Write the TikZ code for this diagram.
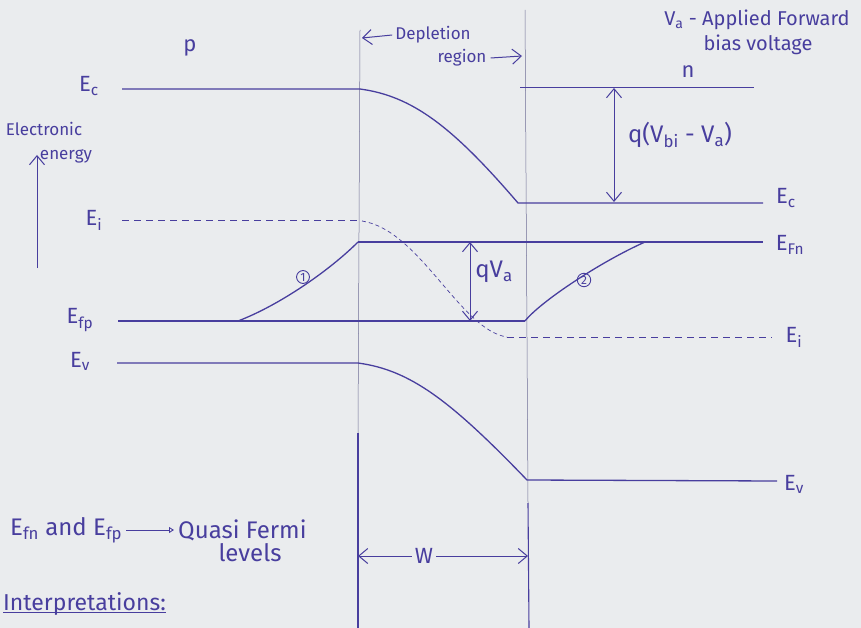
\documentclass[tikz,border=0pt]{standalone}
\usepackage{fontspec}
\setmainfont{Fira Sans}
\usetikzlibrary{arrows.meta}
\definecolor{ink}{RGB}{72,62,158}
\definecolor{paper}{RGB}{234,236,238}
\definecolor{guide}{RGB}{110,110,150}
\begin{document}
\begin{tikzpicture}[x=1pt,y=-1pt,
  band/.style={ink, line width=1.3pt},
  thinline/.style={guide, line width=0.5pt},
  boldline/.style={ink, line width=1.1pt},
  dashband/.style={ink, line width=1pt, dash pattern=on 7pt off 5pt},
  dimarrow/.style={ink, line width=1pt, {Straight Barb[length=9pt,width=15pt]}-{Straight Barb[length=9pt,width=15pt]}},
  onearrow/.style={ink, line width=1pt, -{Straight Barb[length=9pt,width=15pt]}},
  lbl/.style={text=ink, inner sep=0pt, font=\fontsize{17}{19}\selectfont},
  elbl/.style={text=ink, inner sep=0pt, font=\fontsize{22}{24}\selectfont},
  toplbl/.style={text=ink, inner sep=0pt, font=\fontsize{20}{22}\selectfont},
  biglbl/.style={text=ink, inner sep=0pt, font=\fontsize{24}{26}\selectfont},
  numcirc/.style={circle, draw=ink, text=ink, line width=0.9pt, inner sep=1.2pt, font=\fontsize{12}{13}\selectfont}
]
\fill[paper] (0,0) rectangle (861,628);
\useasboundingbox (0,0) rectangle (861,628);

% depletion region boundaries
\coordinate (bLtop) at (360,30);
\coordinate (bLmid) at (358,433);
\coordinate (bLbot) at (358,628);
\coordinate (bRtop) at (525,10);
\coordinate (bRmid) at (528,503);
\coordinate (bRbot) at (529,628);
\draw[thinline] (bLtop) -- (bLmid);
\draw[thinline] (bRtop) -- (bRmid);
\draw[boldline] (bLmid) -- (bLbot);
\draw[boldline] (bRmid) -- (bRbot);

% Ec
\coordinate (ecL) at (122,89);
\coordinate (ecA) at (360,89);
\coordinate (ecB) at (518,203);
\coordinate (ecR) at (763,203);
\draw[band] (ecL) -- (ecA) .. controls (412,96) and (452,126) .. (ecB) -- (ecR);

% n-side reference level
\coordinate (nL) at (520,88);
\coordinate (nR) at (754,88);
\draw[band, line width=1pt] (nL) -- (nR);

% Ei
\coordinate (eiL) at (122,221);
\coordinate (eiA) at (362,221);
\coordinate (eiB) at (507,337);
\coordinate (eiR) at (772,337);
\draw[dashband] (eiL) -- (eiA);
\draw[ink, line width=0.7pt, dash pattern=on 4pt off 3pt] (eiA) .. controls (420,230) and (460,330) .. (eiB);
\draw[dashband] (eiB) -- (eiR);

% Efn
\coordinate (efnA) at (358,242);
\coordinate (efnR) at (763,242);
\draw[band] (efnA) -- (efnR);

% Efp
\coordinate (efpL) at (118,321);
\coordinate (efpC) at (238,321);
\coordinate (efpR) at (525,321);
\draw[band] (efpL) -- (efpR);

% curve 1 and curve 2
\draw[band] (efpC) .. controls (280,305) and (330,270) .. (efnA);
\coordinate (c2end) at (645,242);
\draw[band] (efpR) .. controls (540,302) and (600,262) .. (c2end);

% Ev
\coordinate (evL) at (117,363);
\coordinate (evA) at (358,363);
\coordinate (evB) at (527,480);
\coordinate (evR) at (777,481);
\draw[band] (evL) -- (evA) .. controls (410,370) and (450,400) .. (evB) -- (evR);

% dimension arrows
\coordinate (qt) at (614,88);
\coordinate (qb) at (614,202);
\draw[dimarrow] (qt) -- (qb);
\coordinate (qvt) at (470,242);
\coordinate (qvb) at (470,321);
\draw[dimarrow] (qvt) -- (qvb);

% energy axis
\coordinate (axB) at (37,268);
\coordinate (axT) at (37,155);
\draw[onearrow] (axB) -- (axT);

% labels
\node[elbl] (ecLlbl) at (89,86) {E\textsubscript{c}};
\node[elbl] (ecRlbl) at (786,198) {E\textsubscript{c}};
\node[lbl] (elec) at (44,129) {Electronic};
\node[lbl] (energy) at (66,156) {energy};
\node[elbl] (eiLlbl) at (94,220) {E\textsubscript{i}};
\node[elbl] (eiRlbl) at (794,337) {E\textsubscript{i}};
\node[elbl] (efnlbl) at (790,245) {E\textsubscript{Fn}};
\node[elbl] (efplbl) at (80,320) {E\textsubscript{fp}};
\node[elbl] (evLlbl) at (80,361) {E\textsubscript{v}};
\node[elbl] (evRlbl) at (794,484) {E\textsubscript{v}};
\node[elbl] (plbl) at (190,48) {p};
\node[elbl] (nlbl) at (688,72) {n};
\node[biglbl] (qvbi) at (680,135) {q(V\textsubscript{bi} - V\textsubscript{a})};
\node[biglbl] (qva) at (494,272) {qV\textsubscript{a}};
\node[numcirc] (one) at (303,277) {1};
\node[numcirc] (two) at (584,280) {2};

% depletion region label
\node[lbl] (dep) at (433,35) {Depletion};
\node[lbl] (reg) at (462,58) {region};
\coordinate (depTip) at (362,38);
\coordinate (regTip) at (522,56);
\draw[onearrow] ([xshift=-3pt]dep.west) -- (depTip);
\draw[onearrow] ([xshift=4pt]reg.east) -- (regTip);

% applied voltage note
\node[toplbl] (va1) at (757,20) {V\textsubscript{a} - Applied Forward};
\node[toplbl] (va2) at (758,45) {bias voltage};

% quasi Fermi note
\node[biglbl, anchor=west] (qf1) at (10,530) {E\textsubscript{fn} and E\textsubscript{fp}};
\node[biglbl, anchor=west] (qf2) at (178,530) {Quasi Fermi};
\node[biglbl] (qf3) at (250,553) {levels};
\draw[ink, line width=0.9pt, -{Triangle[open, length=5pt, width=6pt]}] ([xshift=4pt]qf1.east) -- ([xshift=-4pt]qf2.west);

% width W
\node[elbl] (wlbl) at (424,556) {W};
\coordinate (wL) at (358,556);
\coordinate (wR) at (528,556);
\draw[onearrow] ([xshift=-3pt]wlbl.west) -- (wL);
\draw[onearrow] ([xshift=3pt]wlbl.east) -- (wR);

% interpretations
\node[text=ink, inner sep=0pt, font=\fontsize{23}{25}\selectfont, anchor=west] (interp) at (3,604) {Interpretations:};
\draw[ink, line width=0.9pt] ([yshift=3pt]interp.south west) -- ([yshift=3pt]interp.south east);
\end{tikzpicture}
\end{document}
